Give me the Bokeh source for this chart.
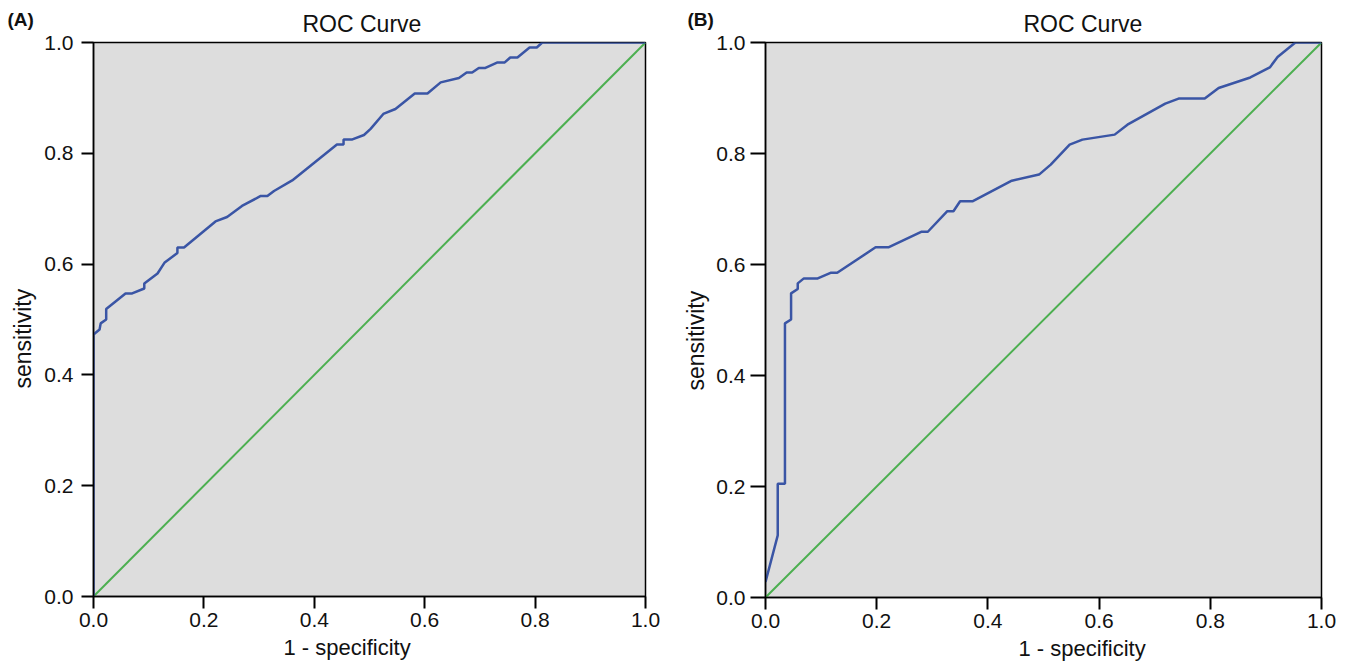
from bokeh.plotting import figure
from bokeh.layouts import row
from bokeh.models import FixedTicker, Range1d, Title
from bokeh.embed import file_html
from bokeh.resources import INLINE

# ---- data ----
ticks = [0.0, 0.2, 0.4, 0.6, 0.8, 1.0]
tick_labels = ["0.0", "0.2", "0.4", "0.6", "0.8", "1.0"]

xa = [0.0, 0.0, 0.011, 0.013, 0.023, 0.023, 0.058, 0.070, 0.092, 0.092, 0.116, 0.129,
      0.152, 0.152, 0.164, 0.221, 0.242, 0.269, 0.303, 0.315, 0.327, 0.360, 0.441,
      0.453, 0.453, 0.469, 0.490, 0.502, 0.525, 0.547, 0.582, 0.605, 0.629, 0.662,
      0.676, 0.686, 0.698, 0.710, 0.732, 0.745, 0.755, 0.768, 0.790, 0.803, 0.813, 1.0]
ya = [0.0, 0.473, 0.482, 0.493, 0.500, 0.519, 0.547, 0.547, 0.556, 0.565, 0.583, 0.603,
      0.620, 0.630, 0.630, 0.677, 0.685, 0.705, 0.723, 0.723, 0.732, 0.751, 0.816,
      0.816, 0.825, 0.825, 0.833, 0.844, 0.871, 0.880, 0.908, 0.908, 0.928, 0.936,
      0.946, 0.946, 0.954, 0.954, 0.964, 0.964, 0.973, 0.973, 0.991, 0.991, 1.0, 1.0]

xb = [0.0, 0.022, 0.022, 0.035, 0.035, 0.046, 0.046, 0.058, 0.058, 0.069, 0.094, 0.117,
      0.129, 0.198, 0.221, 0.280, 0.292, 0.327, 0.338, 0.350, 0.373, 0.443, 0.492,
      0.513, 0.547, 0.570, 0.628, 0.651, 0.719, 0.743, 0.790, 0.815, 0.872, 0.907,
      0.921, 0.953, 1.0]
yb = [0.028, 0.112, 0.205, 0.205, 0.494, 0.501, 0.548, 0.556, 0.566, 0.575, 0.575, 0.585,
      0.585, 0.631, 0.631, 0.659, 0.659, 0.696, 0.696, 0.714, 0.714, 0.751, 0.762,
      0.780, 0.816, 0.825, 0.834, 0.852, 0.890, 0.899, 0.899, 0.918, 0.937, 0.955,
      0.974, 1.0, 1.0]

ref_x = [0.0, 1.0]
ref_y = [0.0, 1.0]

FONT = "Liberation Sans"
TXT = "#111111"
BLUE = "#3a55a5"
GREEN = "#4caf50"
BG = "#dddddd"


def make(panel, xs, ys, fw, fh, bl, br, bt, bb, title_off, title_so, panel_off, panel_so,
         tick_out_y, so_y, xl_off, xl_so, yl_off, yl_so):
    p = figure(frame_width=fw, frame_height=fh, min_border_left=bl, min_border_right=br,
               min_border_top=bt, min_border_bottom=bb,
               x_range=Range1d(0, 1), y_range=Range1d(0, 1),
               output_backend="svg", toolbar_location=None,
               background_fill_color=BG, border_fill_color="white",
               outline_line_color="black", outline_line_width=1.5)
    p.title.visible = False
    p.add_layout(Title(text="ROC Curve", align="left", offset=title_off, text_font=FONT,
                       text_font_size="23px", text_font_style="normal", text_color=TXT,
                       standoff=title_so), "above")
    p.add_layout(Title(text=panel, align="left", offset=panel_off, text_font=FONT,
                       text_font_size="19px", text_font_style="bold", text_color=TXT,
                       standoff=panel_so), "above")
    p.xgrid.visible = False
    p.ygrid.visible = False
    overrides = {t: l for t, l in zip(ticks, tick_labels)}
    for ax, out, so in ((p.xaxis[0], 12, 4), (p.yaxis[0], tick_out_y, so_y)):
        ax.ticker = FixedTicker(ticks=ticks)
        ax.major_label_overrides = overrides
        ax.major_label_text_font = FONT
        ax.major_label_text_font_size = "21px"
        ax.major_label_text_color = TXT
        ax.major_label_standoff = so
        ax.major_tick_in = 0
        ax.major_tick_out = out
        ax.major_tick_line_width = 2
        ax.major_tick_line_color = "black"
        ax.minor_tick_line_color = None
        ax.axis_line_color = "black"
        ax.axis_line_width = 1.5
    p.add_layout(Title(text="1 - specificity", align="left", offset=xl_off,
                       text_font=FONT, text_font_size="22px", text_font_style="normal",
                       text_color=TXT, standoff=xl_so), "below")
    p.add_layout(Title(text="sensitivity", align="left", offset=yl_off,
                       text_font=FONT, text_font_size="23px", text_font_style="normal",
                       text_color=TXT, standoff=yl_so), "left")
    p.line(ref_x, ref_y, line_color=GREEN, line_width=2)
    p.line(xs, ys, line_color=BLUE, line_width=2.5)
    return p


pa = make("(A)", xa, ya, 552, 554, 93, 30, 42, 67, 209, 11, -86, -53,
          12, 8, 190, 6, 208, 12)
pb = make("(B)", xb, yb, 556, 555, 90, 25, 42, 66, 258, 11, -78, -53,
          15, 5, 253, 6, 207, 9)

layout = row(pa, pb)
open("out.html", "w").write(file_html(layout, INLINE))
